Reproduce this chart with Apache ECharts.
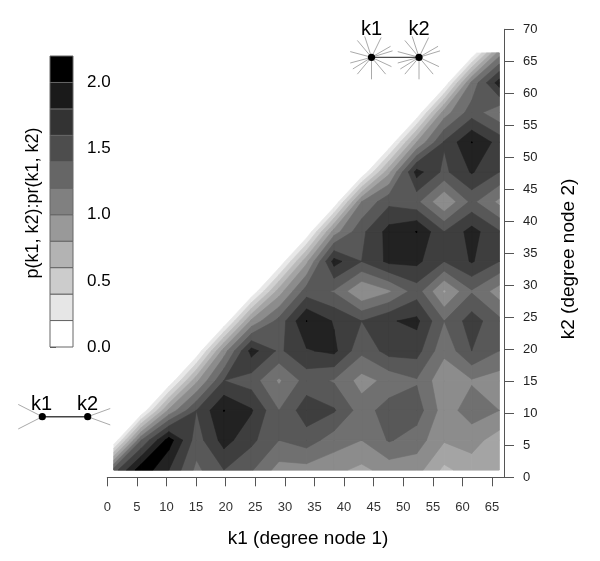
<!DOCTYPE html>
<html>
<head>
<meta charset="utf-8">
<style>
  html, body { margin: 0; padding: 0; background: #fff; }
  #chart { width: 600px; height: 561px; }
</style>
<script src="https://cdn.jsdelivr.net/npm/echarts@6/dist/echarts.min.js"></script>
</head>
<body>
<div id="chart"></div>
<script>
// measured grid, k1 along the bottom, k2 up the side
const k1Knots = [1.1, 5.75, 10.4, 15.05, 19.7, 24.35, 29, 33.65, 38.3, 42.95, 47.6, 52.25, 56.9, 61.55, 66.2];
const k2Knots = [1.14, 5.8, 10.45, 15.11, 19.76, 24.42, 29.07, 33.73, 38.38, 43.04, 47.69, 52.35, 57, 61.66, 66.31];

// ratio read at each knot, one row per k2 knot (bottom row first)
const ratioRows = [
  [1.5, 2.15, 1.8, 1.35, 1.6, 1.42, 1.12, 1.12, 1.05, 0.95, 1.08, 1.08, 0.75, 0.9, 0.85],
  [0, 1.4, 2.1, 1.5, 1.88, 1.65, 1.4, 1.5, 1.3, 1.2, 1.42, 1.3, 1.02, 1.08, 0.9],
  [0, 0, 1.05, 1.6, 2.005, 1.82, 1.4, 1.72, 1.62, 1.3, 1.5, 1.5, 1.1, 1.3, 1.2],
  [0, 0, 0, 0.95, 1.6, 1.5, 1.17, 1.48, 1.38, 1.12, 1.26, 1.38, 1.05, 1.18, 1.1],
  [0, 0, 0, 0, 1.1, 1.88, 1.56, 1.78, 1.85, 1.45, 1.68, 1.68, 1.25, 1.6, 1.4],
  [0, 0, 0, 0, 0, 1.05, 1.47, 2.005, 1.78, 1.6, 1.78, 1.85, 1.4, 1.7, 1.45],
  [0, 0, 0, 0, 0, 0, 0.9, 1.5, 1.38, 1.0, 1.17, 1.5, 0.97, 1.38, 1.1],
  [0, 0, 0, 0, 0, 0, 0, 0.95, 1.88, 1.6, 1.85, 1.85, 1.6, 1.82, 1.6],
  [0, 0, 0, 0, 0, 0, 0, 0, 1.1, 1.55, 1.875, 2.005, 1.6, 1.88, 1.62],
  [0, 0, 0, 0, 0, 0, 0, 0, 0, 1.2, 1.55, 1.45, 1.01, 1.45, 1.15],
  [0, 0, 0, 0, 0, 0, 0, 0, 0, 0, 0.95, 1.88, 1.55, 1.82, 1.6],
  [0, 0, 0, 0, 0, 0, 0, 0, 0, 0, 0, 1.0, 1.62, 2.005, 1.72],
  [0, 0, 0, 0, 0, 0, 0, 0, 0, 0, 0, 0, 1.1, 1.5, 1.25],
  [0, 0, 0, 0, 0, 0, 0, 0, 0, 0, 0, 0, 0, 1.25, 1.9],
  [0, 0, 0, 0, 0, 0, 0, 0, 0, 0, 0, 0, 0, 0, 1.1]
];

const levels = [0, 0.2, 0.4, 0.6, 0.8, 1.0, 1.2, 1.4, 1.6, 1.8, 2.0, 2.2];
const plotColors = ['#ffffff', '#e8e8e8', '#d0d0d0', '#bababa', '#a4a4a4', '#8c8c8c', '#707070', '#585858', '#3e3e3e', '#222222', '#000000'];
const barColors = ['#ffffff', '#e6e6e6', '#cccccc', '#b3b3b3', '#999999', '#808080', '#666666', '#4d4d4d', '#333333', '#1a1a1a', '#000000'];

const xTicks = [0, 5, 10, 15, 20, 25, 30, 35, 40, 45, 50, 55, 60, 65];
const yTicks = [0, 5, 10, 15, 20, 25, 30, 35, 40, 45, 50, 55, 60, 65, 70];
const barTicks = [0, 0.5, 1, 1.5, 2];

const FONT = '"Liberation Sans", Arial, sans-serif';
const AXIS_GREY = '#555';

// part of a grid cell at or above the level, edges cut linearly between knots
function clipCell(i, j, level) {
  const corners = [[i, j], [i + 1, j], [i + 1, j + 1], [i, j + 1]].map(function (c) {
    return { x: k1Knots[c[0]], y: k2Knots[c[1]], v: ratioRows[c[1]][c[0]] };
  });
  const out = [];
  corners.forEach(function (a, n) {
    const b = corners[(n + 1) % 4];
    if (a.v >= level) out.push([a.x, a.y]);
    if ((a.v >= level) !== (b.v >= level)) {
      const t = (level - a.v) / (b.v - a.v);
      out.push([a.x + (b.x - a.x) * t, a.y + (b.y - a.y) * t]);
    }
  });
  return out;
}

const cells = [];
for (let j = 0; j < k2Knots.length - 1; j++) {
  for (let i = 0; i < k1Knots.length - 1; i++) cells.push([i, j]);
}

// one custom series per level, darker ones painted over lighter ones
const contourSeries = levels.slice(1, -1).map(function (level, n) {
  const fill = plotColors[n + 1];
  return {
    type: 'custom',
    xAxisIndex: 0,
    yAxisIndex: 0,
    silent: true,
    clip: false,
    data: cells,
    renderItem: function (params, api) {
      const poly = clipCell(api.value(0), api.value(1), level);
      if (poly.length < 3) return null;
      return {
        type: 'polygon',
        shape: { points: poly.map(function (p) { return api.coord(p); }) },
        style: { fill: fill, stroke: fill, lineWidth: 0.6 }
      };
    }
  };
});

// colour scale, one box per level step
const scaleSeries = {
  type: 'custom',
  xAxisIndex: 1,
  yAxisIndex: 1,
  silent: true,
  data: barColors.map(function (c, n) { return [levels[n], levels[n + 1], n]; }),
  encode: { y: [0, 1] },
  renderItem: function (params, api) {
    const lo = api.coord([0, api.value(0)]);
    const hi = api.coord([1, api.value(1)]);
    return {
      type: 'rect',
      shape: { x: lo[0], y: hi[1], width: hi[0] - lo[0], height: lo[1] - hi[1] },
      style: { fill: barColors[api.value(2)], stroke: '#666', lineWidth: 1 }
    };
  }
};

// little network motifs drawn beside the plot
function motif(x, y, spread, len, color) {
  return spread.map(function (deg) {
    const a = deg * Math.PI / 180;
    return {
      type: 'line',
      silent: true,
      shape: { x1: x, y1: y, x2: x + Math.cos(a) * len, y2: y - Math.sin(a) * len },
      style: { stroke: color, lineWidth: 1 }
    };
  });
}
function dot(x, y) {
  return { type: 'circle', silent: true, z: 5, shape: { cx: x, cy: y, r: 3.6 }, style: { fill: '#000' } };
}
function label(text, x, y, size, rotation) {
  return {
    type: 'text', silent: true, x: x, y: y, rotation: rotation || 0,
    style: { text: text, fill: '#000', font: size + 'px ' + FONT, align: 'center', verticalAlign: 'middle' }
  };
}
const hubAngles = [165, 130, 108, 64, 30, 17, -25, -50, -90, -130, -148, -165];

const graphicItems = [].concat(
  motif(371.5, 57.3, hubAngles, 22, '#aaa'),
  motif(419, 57.3, hubAngles, 22, '#aaa'),
  [{ type: 'line', silent: true, shape: { x1: 371.5, y1: 57.3, x2: 419, y2: 57.3 }, style: { stroke: '#222', lineWidth: 1 } }],
  [dot(371.5, 57.3), dot(419, 57.3)],
  [label('k1', 371.5, 29, 20), label('k2', 419, 29, 20)],
  motif(42.3, 416.7, [153, -153], 27, '#aaa'),
  motif(87.7, 416.7, [20, -20], 24, '#aaa'),
  [{ type: 'line', silent: true, shape: { x1: 42.3, y1: 416.7, x2: 87.7, y2: 416.7 }, style: { stroke: '#444', lineWidth: 1.5 } }],
  [dot(42.3, 416.7), dot(87.7, 416.7)],
  [label('k1', 41.5, 404, 20), label('k2', 87.5, 404, 20)],
  [label('p(k1, k2):pr(k1, k2)', 33, 203, 18, Math.PI / 2)],
  [label('k1 (degree node 1)', 308, 539, 19)],
  [label('k2 (degree node 2)', 569, 259, 19, Math.PI / 2)]
);

const chart = echarts.init(document.getElementById('chart'), null, { renderer: 'canvas' });
chart.setOption({
  animation: false,
  backgroundColor: '#fff',
  grid: [
    { left: 107.3, top: 29.3, width: 405.7, height: 448 },
    { left: 50, top: 56, width: 23, height: 291 }
  ],
  xAxis: [
    {
      type: 'value', gridIndex: 0, min: 0, max: 68.53,
      axisLine: { onZero: false, lineStyle: { color: AXIS_GREY } },
      axisTick: { length: 9, lineStyle: { color: AXIS_GREY }, customValues: xTicks },
      axisLabel: { customValues: xTicks, margin: 24, fontFamily: FONT, fontSize: 13, color: '#333' },
      splitLine: { show: false }
    },
    { type: 'value', gridIndex: 1, min: 0, max: 1, show: false }
  ],
  yAxis: [
    {
      type: 'value', gridIndex: 0, position: 'right', offset: -9, min: 0, max: 70,
      axisLine: { show: true, onZero: false, lineStyle: { color: AXIS_GREY } },
      axisTick: { show: true, length: 10, lineStyle: { color: AXIS_GREY }, customValues: yTicks },
      axisLabel: { customValues: yTicks, margin: 19, fontFamily: FONT, fontSize: 13, color: '#222' },
      splitLine: { show: false }
    },
    {
      type: 'value', gridIndex: 1, position: 'right', min: 0, max: 2.2,
      axisLine: { show: false },
      axisTick: { show: true, length: 6, lineStyle: { color: AXIS_GREY }, customValues: barTicks },
      axisLabel: {
        customValues: barTicks, margin: 14, fontFamily: FONT, fontSize: 17, color: '#000',
        formatter: function (v) { return v.toFixed(1); }
      },
      splitLine: { show: false }
    }
  ],
  series: contourSeries.concat([scaleSeries]),
  graphic: { elements: graphicItems }
});
</script>
</body>
</html>
